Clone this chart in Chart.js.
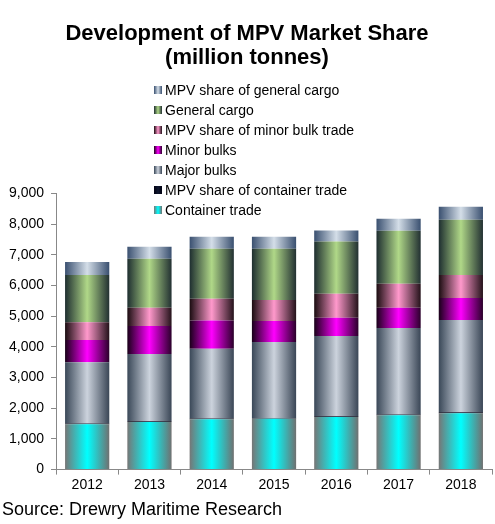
<!DOCTYPE html>
<html>
<head>
<meta charset="utf-8">
<script src="https://cdn.jsdelivr.net/npm/chart.js@4"></script>
<style>
  html, body { margin: 0; padding: 0; background: #fff; }
  #wrap { width: 495px; height: 524px; }
</style>
</head>
<body>
<div id="wrap"><canvas id="chart"></canvas></div>
<script>
// values, million tonnes
const years = ['2012', '2013', '2014', '2015', '2016', '2017', '2018'];
const containerTrade = [1480, 1550, 1640, 1660, 1710, 1770, 1840];
const mpvContainer = [20, 25, 25, 15, 25, 25, 30];
const majorBulks = [2000, 2190, 2275, 2480, 2620, 2820, 3005];
const minorBulks = [720, 915, 915, 685, 590, 655, 715];
const mpvMinor = [585, 590, 715, 690, 785, 785, 750];
const generalCargo = [1535, 1600, 1625, 1665, 1700, 1730, 1800];
const mpvGeneral = [425, 390, 390, 390, 360, 390, 425];

const BAR_PCT = 0.71;
const FONT = "Liberation Sans, Arial, sans-serif";

// edge / centre / edge colours for the cylinder look
const shades = {
    container: ['#767676', '#00ffff', '#707070'],
    mpvContainer: ['#000010', '#101830', '#000010'],
    major: ['#3a4858', '#ccd3dd', '#3a4656'],
    minor: ['#180018', '#ff00ff', '#2a002a'],
    mpvMinor: ['#1a0c10', '#ff99cc', '#24121a'],
    general: ['#1e2e30', '#b0d888', '#223032'],
    mpvGeneral: ['#3a5070', '#d4dee8', '#3a5070']
};

function hGradient(c, x0, x1, cols) {
    const g = c.createLinearGradient(x0, 0, x1, 0);
    g.addColorStop(0, cols[0]);
    g.addColorStop(0.5, cols[1]);
    g.addColorStop(1, cols[2]);
    return g;
}

function barFill(cols) {
    return (ctx) => {
        const chart = ctx.chart;
        const x = chart.scales.x;
        if (!x || !chart.chartArea) return cols[1];
        const center = x.getPixelForValue(ctx.dataIndex);
        const w = (x.width / years.length) * BAR_PCT;
        return hGradient(chart.ctx, center - w / 2, center + w / 2, cols);
    };
}

function ds(label, data, cols) {
    return { label: label, data: data, backgroundColor: barFill(cols), shades: cols, borderWidth: 0 };
}

// legend drawn over the upper part of the plot, top entry = top of stack
const stackLegend = {
    id: 'stackLegend',
    afterDraw(chart) {
        const c = chart.ctx;
        const items = chart.data.datasets.slice().reverse();
        c.save();
        c.font = '14px ' + FONT;
        c.textBaseline = 'middle';
        items.forEach((d, i) => {
            const y = 90 + i * 20;
            c.fillStyle = hGradient(c, 154, 162, d.shades);
            c.fillRect(154, y - 4, 8, 8);
            c.fillStyle = '#000';
            c.fillText(d.label, 165, y + 1);
        });
        c.restore();
    }
};

new Chart(document.getElementById('chart'), {
    type: 'bar',
    data: {
        labels: years,
        datasets: [
            ds('Container trade', containerTrade, shades.container),
            ds('MPV share of container trade', mpvContainer, shades.mpvContainer),
            ds('Major bulks', majorBulks, shades.major),
            ds('Minor bulks', minorBulks, shades.minor),
            ds('MPV share of minor bulk trade', mpvMinor, shades.mpvMinor),
            ds('General cargo', generalCargo, shades.general),
            ds('MPV share of general cargo', mpvGeneral, shades.mpvGeneral)
        ]
    },
    options: {
        responsive: true,
        maintainAspectRatio: false,
        animation: false,
        datasets: { bar: { categoryPercentage: 1, barPercentage: BAR_PCT } },
        layout: { padding: { left: 2, right: 3, top: 0, bottom: 0 } },
        plugins: {
            legend: { display: false },
            tooltip: { enabled: false },
            title: {
                display: true,
                text: ['Development of MPV Market Share', '(million tonnes)'],
                color: '#000',
                font: { family: FONT, size: 22, weight: 'bold', lineHeight: 1.1 },
                padding: { top: 22, bottom: 123 }
            },
            subtitle: {
                display: true,
                position: 'bottom',
                align: 'start',
                text: 'Source: Drewry Maritime Research',
                color: '#000',
                font: { family: FONT, size: 18 },
                padding: { top: 4, bottom: 3 }
            }
        },
        scales: {
            x: {
                stacked: true,
                grid: { drawOnChartArea: false, tickLength: 5, color: '#888' },
                border: { color: '#888' },
                ticks: { color: '#000', font: { family: FONT, size: 14 }, padding: 2 }
            },
            y: {
                stacked: true,
                min: 0,
                max: 9000,
                grid: { drawOnChartArea: false, tickLength: 5, color: '#888' },
                border: { color: '#888' },
                ticks: { stepSize: 1000, color: '#000', font: { family: FONT, size: 14 }, padding: 7 }
            }
        }
    },
    plugins: [stackLegend]
});
</script>
</body>
</html>
